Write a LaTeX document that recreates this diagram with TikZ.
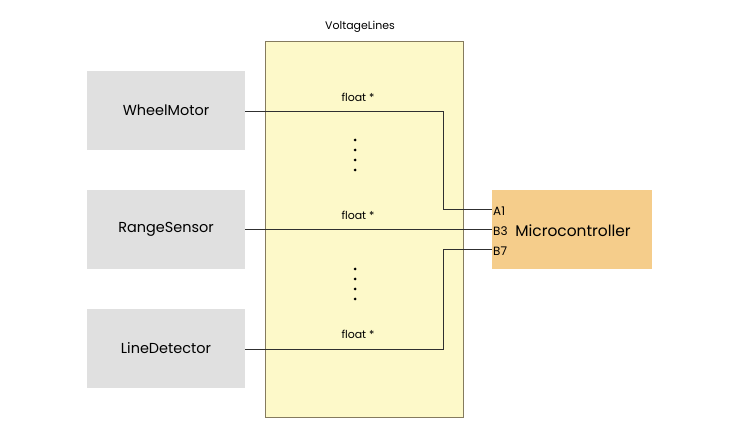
\documentclass[tikz,border=0pt]{standalone}
\usepackage{fontspec}
\setmainfont{Poppins}
\definecolor{grayfill}{HTML}{E0E0E0}
\definecolor{yelfill}{HTML}{FDF9C9}
\definecolor{yeldraw}{HTML}{857B5E}
\definecolor{orfill}{HTML}{F5CD8B}
\definecolor{wire}{HTML}{303030}
\begin{document}
\begin{tikzpicture}[x=1bp,y=-1bp,
  comp/.style={fill=grayfill,draw=none,minimum width=158bp,minimum height=79bp,inner sep=0pt,font=\fontsize{14.5}{17}\selectfont},
  wirest/.style={draw=wire,line width=0.8bp},
  lbl/.style={font=\fontsize{11}{13}\selectfont,inner sep=0pt},
  pin/.style={font=\fontsize{12}{14}\selectfont,inner sep=0pt,anchor=west},
  dot/.style={circle,fill=black,inner sep=0pt,minimum size=3bp}]
\useasboundingbox (0,0) rectangle (739,435);
% bus
\node[fill=yelfill,draw=yeldraw,line width=0.8bp,minimum width=198bp,minimum height=376bp,inner sep=0pt] (bus) at (364,229) {};
\node[lbl] (buslbl) at (360,27) {VoltageLines};
% components
\node[comp] (wm) at (166,110.5) {WheelMotor};
\node[comp] (rs) at (166,229.5) {RangeSensor};
\node[comp] (ld) at (166,348.5) {LineDetector};
\node[fill=orfill,minimum width=160bp,minimum height=79bp,inner sep=0pt] (mc) at (572,229.5) {};
\node[font=\fontsize{15.5}{18}\selectfont,inner sep=0pt] (mclbl) at (573,231) {Microcontroller};
% pins
\coordinate (pA) at (492,209);
\coordinate (pB) at (492,229);
\coordinate (pC) at (492,249);
\node[pin] (a1) at (493,211) {A1};
\node[pin] (b3) at (493,231) {B3};
\node[pin] (b7) at (493,251) {B7};
% wires
\coordinate (wmE) at (wm.east |- 0,111);
\coordinate (ldE) at (ld.east |- 0,349);
\draw[wirest] (wmE) -- (443,111) -- (443,209) -- (pA);
\draw[wirest] (rs.east |- pB) -- (pB);
\draw[wirest] (ldE) -- (443,349) -- (443,249) -- (pC);
% labels
\node[lbl] (f1) at (358,97) {float *};
\node[lbl] (f2) at (358,215) {float *};
\node[lbl] (f3) at (358,334) {float *};
% dots
\foreach \i/\y in {1/140,2/150,3/160,4/170} \node[dot] (da\i) at (355,\y) {};
\foreach \i/\y in {1/269,2/279,3/289,4/299} \node[dot] (db\i) at (355,\y) {};
\end{tikzpicture}
\end{document}
